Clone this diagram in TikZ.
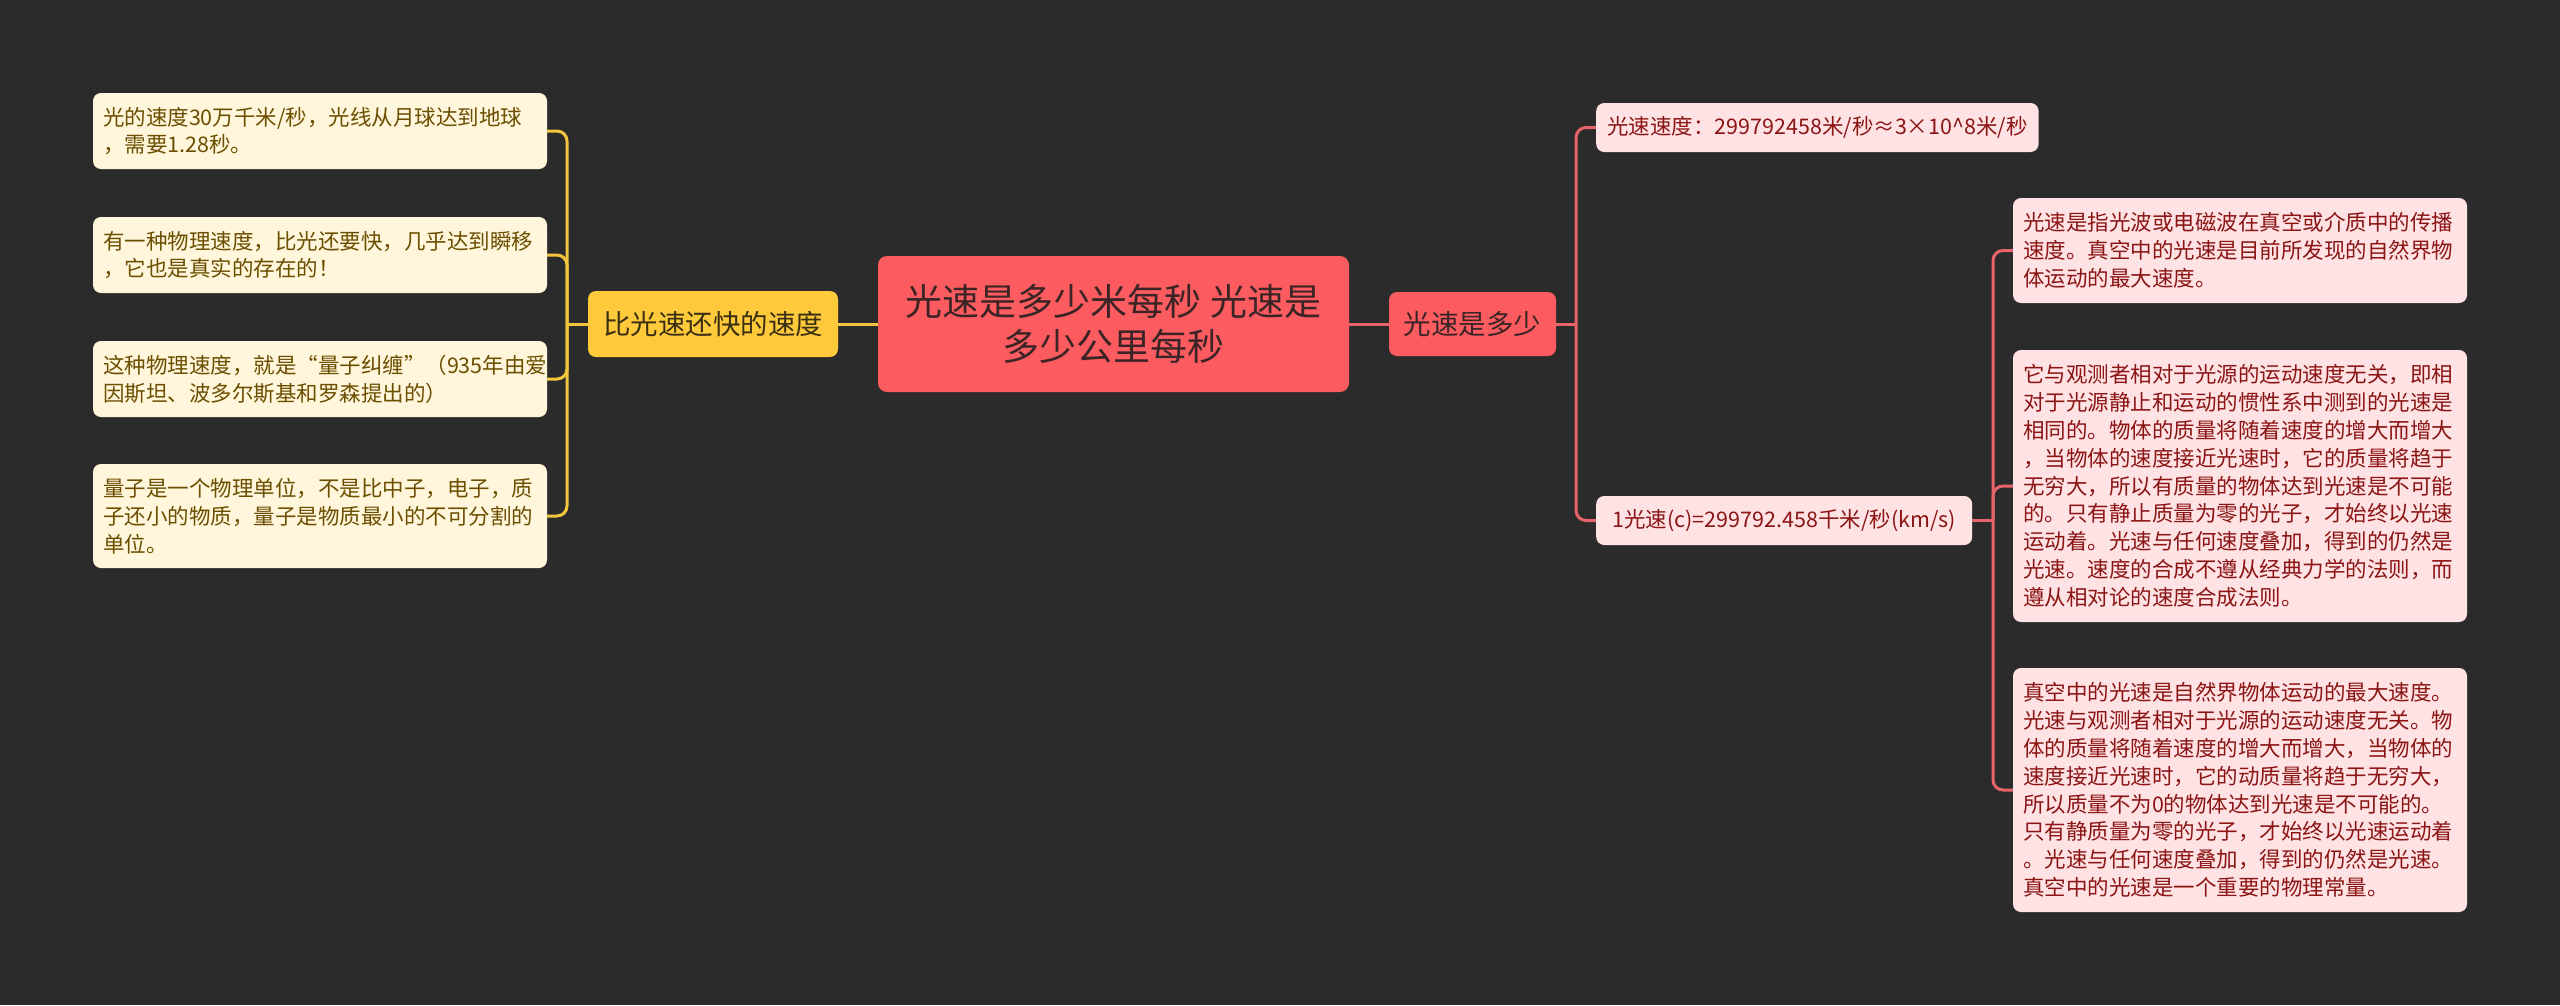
\documentclass[tikz,border=0pt]{standalone}
\usepackage{fontspec}
\setmainfont{Noto Sans CJK SC}
\definecolor{bgc}{HTML}{2B2B2B}
\definecolor{mainfill}{HTML}{FC5B5F}
\definecolor{maintext}{HTML}{3B2426}
\definecolor{yfill}{HTML}{FFC93C}
\definecolor{ytext}{HTML}{3A2F10}
\definecolor{lyfill}{HTML}{FFF6DB}
\definecolor{lytext}{HTML}{6B4E00}
\definecolor{lrfill}{HTML}{FFE3E4}
\definecolor{lrtext}{HTML}{8B1414}
\definecolor{ylink}{HTML}{F2C53D}
\definecolor{rlink}{HTML}{E8646A}
\tikzset{
  rootbox/.style={rectangle, rounded corners=9pt, fill=mainfill, text=maintext, inner sep=0pt,
    minimum width=471pt, minimum height=136pt, align=center, font=\fontsize{37}{45}\selectfont},
  ybox/.style={rectangle, rounded corners=8pt, fill=yfill, text=ytext, inner sep=0pt,
    minimum width=250pt, minimum height=66pt, font=\fontsize{27.5}{33}\selectfont},
  rbox/.style={rectangle, rounded corners=8pt, fill=mainfill, text=maintext, inner sep=0pt,
    minimum width=167pt, minimum height=64pt, font=\fontsize{27.5}{33}\selectfont},
  leafy/.style={rectangle, rounded corners=8pt, fill=lyfill, text=lytext, inner xsep=10pt, inner ysep=0pt,
    text width=434pt, align=left, font=\fontsize{21.5}{27.8}\selectfont},
  leafr/.style={rectangle, rounded corners=8pt, fill=lrfill, text=lrtext, inner xsep=10pt, inner ysep=0pt,
    text width=434pt, align=left, font=\fontsize{21.5}{27.8}\selectfont},
  tagr/.style={rectangle, rounded corners=8pt, fill=lrfill, text=lrtext, inner xsep=11pt, inner ysep=0pt,
    minimum height=49pt, font=\fontsize{21.5}{27.8}\selectfont},
  ylk/.style={draw=ylink, line width=3pt, rounded corners=10pt},
  rlk/.style={draw=rlink, line width=3pt, rounded corners=10pt},
}
\begin{document}
\begin{tikzpicture}[x=1pt,y=-1pt]
\fill[bgc] (0,0) rectangle (2560,1005);
\useasboundingbox (0,0) rectangle (2560,1005);

% central and first-level nodes
\node[rootbox] (root) at (1113.5,324) {光速是多少米每秒 光速是\\多少公里每秒};
\node[ybox] (fast) at (713,324) {比光速还快的速度};
\node[rbox] (howmuch) at (1472.5,324) {光速是多少};

% left leaves
\node[leafy, minimum height=76pt] (l1) at (320,131) {光的速度30万千米/秒，光线从月球达到地球\\，需要1.28秒。};
\node[leafy, minimum height=76pt] (l2) at (320,255) {有一种物理速度，比光还要快，几乎达到瞬移\\，它也是真实的存在的！};
\node[leafy, minimum height=76pt] (l3) at (320,379) {这种物理速度，就是“量子纠缠”（935年由爱\\因斯坦、波多尔斯基和罗森提出的）};
\node[leafy, minimum height=104pt] (l4) at (320,516) {量子是一个物理单位，不是比中子，电子，质\\子还小的物质，量子是物质最小的不可分割的\\单位。};

% right second-level nodes
\node[tagr, anchor=west] (r1) at (1596,127.5) {光速速度：299792458米/秒≈3×10\textasciicircum{}8米/秒};
\node[tagr, anchor=west, minimum width=376pt] (r2) at (1596,520.5) {1光速(c)=299792.458千米/秒(km/s)};

% right leaves
\node[leafr, minimum height=105pt] (ra) at (2240,250.5) {光速是指光波或电磁波在真空或介质中的传播\\速度。真空中的光速是目前所发现的自然界物\\体运动的最大速度。};
\node[leafr, minimum height=272pt] (rb) at (2240,486) {它与观测者相对于光源的运动速度无关，即相\\对于光源静止和运动的惯性系中测到的光速是\\相同的。物体的质量将随着速度的增大而增大\\，当物体的速度接近光速时，它的质量将趋于\\无穷大，所以有质量的物体达到光速是不可能\\的。只有静止质量为零的光子，才始终以光速\\运动着。光速与任何速度叠加，得到的仍然是\\光速。速度的合成不遵从经典力学的法则，而\\遵从相对论的速度合成法则。};
\node[leafr, minimum height=244pt] (rc) at (2240,790) {真空中的光速是自然界物体运动的最大速度。\\光速与观测者相对于光源的运动速度无关。物\\体的质量将随着速度的增大而增大，当物体的\\速度接近光速时，它的动质量将趋于无穷大，\\所以质量不为0的物体达到光速是不可能的。\\只有静质量为零的光子，才始终以光速运动着\\。光速与任何速度叠加，得到的仍然是光速。\\真空中的光速是一个重要的物理常量。};

% junctions
\coordinate (jl) at (567,324);
\coordinate (jm) at (1576,324);
\coordinate (jr) at (1993,520.5);

% connectors
\draw[ylk] (root.west) -- (fast.east);
\draw[rlk] (root.east) -- (howmuch.west);
\draw[ylk] (fast.west) -- (jl);
\foreach \n in {l1,l2,l3,l4} \draw[ylk] (jl) |- (\n.east);
\draw[rlk] (howmuch.east) -- (jm);
\foreach \n in {r1,r2} \draw[rlk] (jm) |- (\n.west);
\draw[rlk] (r2.east) -- (jr);
\foreach \n in {ra,rb,rc} \draw[rlk] (jr) |- (\n.west);
\end{tikzpicture}
\end{document}
